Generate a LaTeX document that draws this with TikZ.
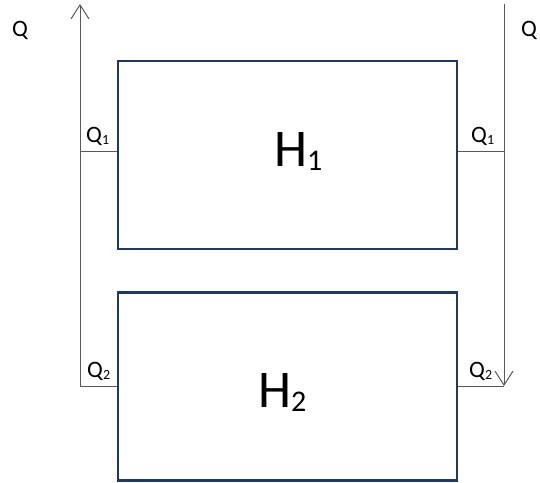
\documentclass[tikz,border=0pt]{standalone}
\usepackage{fontspec}
\setmainfont{Carlito}
\usetikzlibrary{arrows.meta}
\definecolor{boxnavy}{HTML}{1F3864}
\definecolor{flowgray}{HTML}{595959}
\newcommand\bigfont{\fontsize{53}{53}\selectfont}
\newcommand\bigsub[1]{{\fontsize{30}{30}\selectfont\raisebox{-4pt}{#1}}}
\newcommand\midfont{\fontsize{23.5}{23.5}\selectfont}
\newcommand\smallsub[1]{{\fontsize{14}{14}\selectfont\raisebox{-2pt}{#1}}}
\tikzset{
  x=1pt, y=1pt,
  block/.style={draw=boxnavy, line width=2.6pt, rectangle, inner sep=0pt,
                minimum width=339pt, minimum height=188pt},
  flow/.style={draw=flowgray, line width=1pt},
  flowarrow/.style={flow, -{Straight Barb[length=14pt,width=18pt,line width=1pt]}},
  lbl/.style={inner sep=0pt, anchor=base west, text=black},
}
\begin{document}
\begin{tikzpicture}
\useasboundingbox (0,0) rectangle (540,482);

% the two blocks
\node[block] (h1) at (287.5,327) {};
\node[block] (h2) at (287.5,95.5) {};
\node[lbl] (h1text) at (274,315) {\bigfont H\bigsub{1}};
\node[lbl] (h2text) at (258,75) {\bigfont H\bigsub{2}};

% left collector line, flow leaves upwards
\coordinate (lbot) at (80,96);
\coordinate (ltop) at (80,478);
\coordinate (lq1) at (80,330);
\draw[flowarrow] (lbot) -- (ltop);
\draw[flow] (lq1) -- (h1.west |- lq1);
\draw[flow] (lbot) -- (h2.west |- lbot);

% right supply line, flow enters from above
\coordinate (rtop) at (504,478);
\coordinate (rbot) at (504,96);
\coordinate (rq1) at (504,330);
\draw[flowarrow] (rtop) -- (rbot);
\draw[flow] (h1.east |- rq1) -- (rq1);
\draw[flow] (h2.east |- rbot) -- (rbot);

% flow labels
\node[lbl] (qleft) at (12,445) {\midfont Q};
\node[lbl] (qright) at (521,445) {\midfont Q};
\node[lbl] (q1l) at (86,339) {\midfont Q\smallsub{1}};
\node[lbl] (q1r) at (471,339) {\midfont Q\smallsub{1}};
\node[lbl] (q2l) at (87,105) {\midfont Q\smallsub{2}};
\node[lbl] (q2r) at (469,105) {\midfont Q\smallsub{2}};
\end{tikzpicture}
\end{document}
